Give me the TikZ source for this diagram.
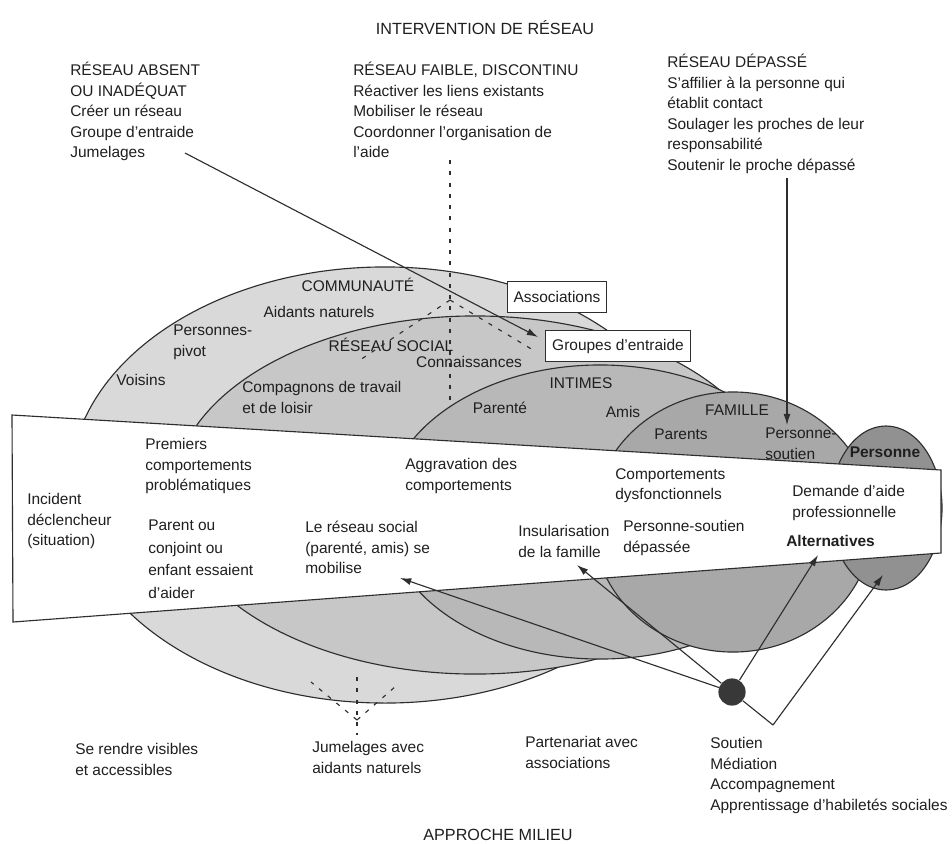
\documentclass[tikz,border=0pt]{standalone}
\usepackage{fontspec}
\setmainfont{Liberation Sans}
\usetikzlibrary{arrows.meta}
\definecolor{cComm}{gray}{0.85}
\definecolor{cRS}{gray}{0.78}
\definecolor{cInt}{gray}{0.72}
\definecolor{cFam}{gray}{0.66}
\definecolor{cPer}{gray}{0.57}
\definecolor{cDot}{gray}{0.22}
\definecolor{cLine}{gray}{0.18}
\definecolor{cText}{gray}{0.12}
\begin{document}
\begin{tikzpicture}[x=0.025cm,y=-0.025cm,
  txt/.style={inner sep=0pt, align=left, anchor=north west, font=\fontsize{11}{14.6}\selectfont, text=cText},
  lbl/.style={inner sep=0pt, font=\fontsize{11}{14}\selectfont, text=cText},
  ell/.style={draw=cLine, line width=0.8pt},
  plain/.style={draw=cLine, line width=0.8pt},
  arr/.style={draw=cLine, line width=0.8pt, -{Latex[length=8pt,width=5pt]}},
  dsh/.style={draw=cLine, line width=0.8pt, dash pattern=on 3pt off 5pt},
  boxed/.style={draw=cLine, line width=0.8pt, fill=white, inner xsep=4.5pt, minimum height=22pt, font=\fontsize{11}{14}\selectfont, text=cText}
]
\useasboundingbox (0,0) rectangle (952,843);
\fill[white] (0,0) rectangle (952,843);

% nested ellipses
\draw[ell, fill=cComm] (385,485) ellipse [x radius=7.875cm, y radius=5.45cm];
\draw[ell, fill=cRS] (475,495) ellipse [x radius=7.55cm, y radius=4.475cm];
\draw[ell, fill=cInt] (600,512) ellipse [x radius=5.375cm, y radius=3.675cm];
\draw[ell, fill=cFam] (733,522) ellipse [x radius=3.5cm, y radius=3.25cm];
\draw[ell, fill=cPer] (886,508) ellipse [x radius=1.4cm, y radius=2.05cm];

% central band
\draw[ell, fill=white] (12,415) -- (941,470) -- (941,553) -- (13,622) -- cycle;

% header and top texts
\node[lbl, font=\fontsize{11.5}{14}\selectfont] (hdr) at (485,28) {INTERVENTION DE RÉSEAU};
\node[txt] (absent) at (70,62) {RÉSEAU ABSENT\\OU INADÉQUAT\\Créer un réseau\\Groupe d’entraide\\Jumelages};
\node[txt] (faible) at (353,62) {RÉSEAU FAIBLE, DISCONTINU\\Réactiver les liens existants\\Mobiliser le réseau\\Coordonner l’organisation de\\l’aide};
\node[txt] (depasse) at (667,54) {RÉSEAU DÉPASSÉ\\S’affilier à la personne qui\\établit contact\\Soulager les proches de leur\\responsabilité\\Soutenir le proche dépassé};

% ellipse labels
\node[lbl] (comm) at (358,285) {COMMUNAUTÉ};
\node[lbl] (aidants) at (319,312) {Aidants naturels};
\node[txt] (pivot) at (173,325) {Personnes-\\pivot};
\node[lbl] (voisins) at (141,380) {Voisins};
\node[lbl] (rs) at (391,345) {RÉSEAU SOCIAL};
\node[lbl] (conn) at (469,362) {Connaissances};
\node[txt] (compa) at (242,381) {Compagnons de travail\\et de loisir};
\node[lbl] (intimes) at (581,383) {INTIMES};
\node[lbl] (parente) at (500,408) {Parenté};
\node[lbl] (amis) at (623,412) {Amis};
\node[lbl] (famille) at (737,410) {FAMILLE};
\node[lbl] (parents) at (681,434) {Parents};
\node[txt] (psoutien) at (765,428) {Personne-\\soutien};
\node[lbl, font=\fontsize{11}{14}\selectfont\bfseries] (personne) at (885,452) {Personne};

% boxes
\node[boxed] (assoc) at (557,297) {Associations};
\node[boxed] (groupes) at (618,346) {Groupes d’entraide};

% band texts
\node[txt] (incident) at (27,493) {Incident\\déclencheur\\(situation)};
\node[txt] (premiers) at (145,438) {Premiers\\comportements\\problématiques};
\node[txt, font=\fontsize{11}{16}\selectfont] (parent) at (148,520) {Parent ou\\conjoint ou\\enfant essaient\\d’aider};
\node[txt] (mobil) at (305,521) {Le réseau social\\(parenté, amis) se\\mobilise};
\node[txt] (aggrav) at (405,458) {Aggravation des\\comportements};
\node[txt] (insul) at (518,525) {Insularisation\\de la famille};
\node[txt] (dysf) at (615,468) {Comportements\\dysfonctionnels};
\node[txt] (depassee) at (623,520) {Personne-soutien\\dépassée};
\node[txt] (demande) at (792,485) {Demande d’aide\\professionnelle};
\node[txt, font=\fontsize{11}{14}\selectfont\bfseries] (altern) at (786,535) {Alternatives};

% bottom texts
\node[txt] (visibles) at (75,743) {Se rendre visibles\\et accessibles};
\node[txt] (jumav) at (312,741) {Jumelages avec\\aidants naturels};
\node[txt] (parten) at (525,736) {Partenariat avec\\associations};
\node[txt] (soutien) at (710,737) {Soutien\\Médiation\\Accompagnement\\Apprentissage d’habiletés sociales};
\node[lbl, font=\fontsize{11.5}{14}\selectfont] (milieu) at (498,835) {APPROCHE MILIEU};

% coordinates for connectors
\coordinate (jum) at (185,153);
\coordinate (tGr) at (538,337);
\coordinate (dep) at (787,178);
\coordinate (tPs) at (787,425);
\coordinate (dT) at (450,160);
\coordinate (dB) at (450,405);
\coordinate (fanT) at (450,300);
\coordinate (fanL) at (360,360);
\coordinate (fanR) at (533,350);
\coordinate (bT) at (357,677);
\coordinate (bB) at (357,735);
\coordinate (bA) at (357,720);
\coordinate (bL) at (311,682);
\coordinate (bR) at (396,686);
\coordinate (tMob) at (400,578);
\coordinate (tIns) at (577,565);
\coordinate (tAlt) at (818,555);
\coordinate (tPer) at (883,575);
\coordinate (vv) at (773,725);

% top connectors
\draw[arr] (jum) -- (tGr);
\draw[arr] (dep) -- (tPs);
\draw[dsh] (dT) -- (dB);
\draw[dsh] (fanT) -- (fanL);
\draw[dsh] (fanT) -- (fanR);

% bottom dashed fan
\draw[dsh] (bT) -- (bB);
\draw[dsh] (bA) -- (bL);
\draw[dsh] (bA) -- (bR);

% dot and its arrows
\node[circle, fill=cDot, inner sep=0pt, minimum size=0.68cm] (dot) at (732,692) {};
\draw[arr] (dot) -- (tMob);
\draw[arr] (dot) -- (tIns);
\draw[arr] (dot) -- (tAlt);
\draw[plain] (dot) -- (vv);
\draw[arr] (vv) -- (tPer);
\end{tikzpicture}
\end{document}
